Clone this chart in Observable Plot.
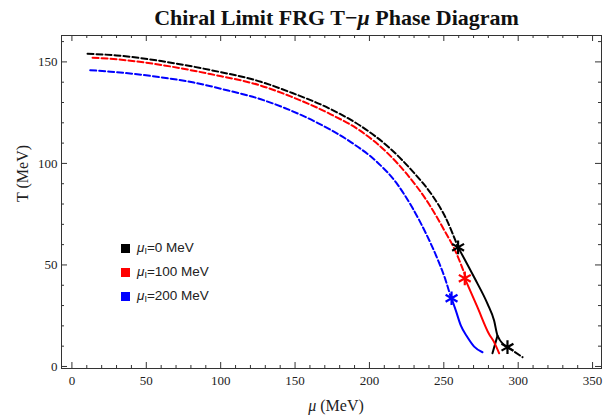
<!DOCTYPE html>
<html>
<head>
<meta charset="utf-8">
<script src="https://cdn.jsdelivr.net/npm/d3@7"></script>
<script src="https://cdn.jsdelivr.net/npm/@observablehq/plot@0.6"></script>
<style>
  html, body { margin: 0; padding: 0; background: #fff; }
  #wrap { position: relative; width: 604px; height: 418px; }
  #legend { position: absolute; left: 121px; top: 236px; font-family: "Liberation Sans", Arial, sans-serif; font-size: 13.5px; color: #222; }
  #legend .row { height: 24px; display: flex; align-items: center; }
  #legend .sw { width: 9px; height: 9px; margin-right: 7px; }
  #legend i { font-family: "Liberation Sans", Arial, sans-serif; }
  #legend sub { font-size: 9px; vertical-align: -2px; }
</style>
</head>
<body>
<div id="wrap"></div>
<script>
// Series: phase boundaries (mu in MeV, T in MeV)
const seriesNames = ["μI=0 MeV", "μI=100 MeV", "μI=200 MeV"];
const seriesColors = ["#000000", "#ff0000", "#0000ff"];

// crossover (dashed) lines
const dashed0 = [[10.5,154],[30,153.2],[60,150.4],[93,146],[127,140.2],[147,135],[174,126.7],[194,118.5],[214,107.3],[230,95.3],[242,84.5],[251,73.6],[259.6,58.7]];
const dashed100 = [[13.9,152.1],[30,151.3],[60,148.5],[93,144],[127,138.3],[147,133],[174,124.2],[194,116],[212,105.2],[226,94],[240,80],[250,67.5],[258,56.5],[264.8,43.9]];
const dashed200 = [[12.3,145.9],[26,145.2],[60,142.4],[82,139.8],[105,135.9],[127,131.6],[143,127.3],[165,120],[187.5,110.5],[205.4,100.5],[218,90.5],[229,78],[238,65.5],[246,52.5],[251.3,42.3],[254.7,34.1]];

// first-order (solid) lines
const solid0 = [[259.6,58.7],[270.4,43.9],[279.4,30.8],[283.8,22.6],[286.1,15.2],[292.8,9.5]];
const solid0Branch = [[282.7,6.5],[286.1,15.2]];
const solid100 = [[264.1,43.4],[272.6,29.2],[280.4,16],[283.8,12],[287.2,6.5]];
const solid200 = [[255.2,33.6],[258.1,27.5],[261.4,20.2],[265.9,14.4],[270.4,9.8],[276,7]];
const dashed0Tail = [[292.8,9.5],[302.9,4.6]];

// critical end points
const stars = [[259.6,58.7,0],[264.1,43.4,1],[255.2,33.6,2],[292.8,9.5,0]];

const xMajor = [0,50,100,150,200,250,300,350];
const yMajor = [0,50,100,150];
const xMinor = d3.range(0, 360, 10).filter(v => v % 50 !== 0);
const yMinor = d3.range(0, 161, 10).filter(v => v % 50 !== 0);

const W = 604, H = 418, mT = 35, mB = 50, mL = 61, mR = 3;
const fh = H - mT - mB;

const line = (data, color, dashed) => Plot.line(data, {x: d => d[0], y: d => d[1], stroke: color, strokeWidth: 2, strokeDasharray: dashed ? "6,3" : null, curve: "monotone-x"});

const chart = Plot.plot({
  width: W, height: H,
  marginTop: mT, marginBottom: mB, marginLeft: mL, marginRight: mR,
  x: {domain: [-7, 356]},
  y: {domain: [-1, 163]},
  style: {fontFamily: "'Liberation Serif', 'Times New Roman', serif", background: "white"},
  marks: [
    // inward ticks
    Plot.tickX(xMajor, {x: d => d, insetTop: fh - 6, stroke: "#333"}),
    Plot.tickX(xMajor, {x: d => d, insetBottom: fh - 6, stroke: "#333"}),
    Plot.tickX(xMinor, {x: d => d, insetTop: fh - 3, stroke: "#333"}),
    Plot.tickX(xMinor, {x: d => d, insetBottom: fh - 3, stroke: "#333"}),
    Plot.tickY(yMajor, {y: d => d, insetRight: W - mL - mR - 6, stroke: "#333"}),
    Plot.tickY(yMajor, {y: d => d, insetLeft: W - mL - mR - 6, stroke: "#333"}),
    Plot.tickY(yMinor, {y: d => d, insetRight: W - mL - mR - 3, stroke: "#333"}),
    Plot.tickY(yMinor, {y: d => d, insetLeft: W - mL - mR - 3, stroke: "#333"}),
    Plot.axisX({ticks: xMajor, tickSize: 0, tickPadding: 7, fontSize: 13, label: null, tickFormat: d => String(d), color: "#222"}),
    Plot.axisY({ticks: yMajor, tickSize: 0, tickPadding: 4, fontSize: 13, label: null, tickFormat: d => String(d), color: "#222"}),
    line(dashed0, seriesColors[0], true),
    line(dashed100, seriesColors[1], true),
    line(dashed200, seriesColors[2], true),
    line(solid0, seriesColors[0], false),
    line(solid0Branch, seriesColors[0], false),
    line(solid100, seriesColors[1], false),
    line(solid200, seriesColors[2], false),
    line(dashed0Tail, seriesColors[0], true),
    Plot.dot(stars, {x: d => d[0], y: d => d[1], stroke: d => seriesColors[d[2]], symbol: "asterisk", r: 6.5, strokeWidth: 2.2}),
    Plot.frame({stroke: "#333", strokeWidth: 1}),
    Plot.text(["Chiral Limit FRG T−μ Phase Diagram"], {frameAnchor: "top", lineAnchor: "middle", dy: -18, dx: 5, fontSize: 22, fontWeight: "bold", fill: "#111"}),
    Plot.text(["T (MeV)"], {frameAnchor: "left", dx: -39, rotate: -90, fontSize: 16, fill: "#222"}),
  ]
});

const wrap = document.getElementById("wrap");
wrap.appendChild(chart);

// x axis label with italic mu
const svg = d3.select(chart);
const xl = svg.append("text")
  .attr("x", mL + (W - mL - mR) / 2 + 5).attr("y", 411)
  .attr("text-anchor", "middle")
  .attr("font-family", "'Liberation Serif', 'Times New Roman', serif")
  .attr("font-size", 16).attr("fill", "#222");
xl.append("tspan").attr("font-style", "italic").text("μ");
xl.append("tspan").text(" (MeV)");

// title mu italic
svg.selectAll("text").each(function() {
  const t = d3.select(this);
  if (t.text() === "Chiral Limit FRG T−μ Phase Diagram") {
    t.text(null);
    t.append("tspan").text("Chiral Limit FRG T−");
    t.append("tspan").attr("font-style", "italic").text("μ");
    t.append("tspan").text(" Phase Diagram");
  }
});

// legend
const leg = d3.select(wrap).append("div").attr("id", "legend");
seriesNames.forEach((n, i) => {
  const row = leg.append("div").attr("class", "row");
  row.append("div").attr("class", "sw").style("background", seriesColors[i]);
  const val = n.replace("μI=", "");
  row.append("span").html(`<i>μ</i><sub>I</sub>=${val}`);
});
</script>
</body>
</html>
